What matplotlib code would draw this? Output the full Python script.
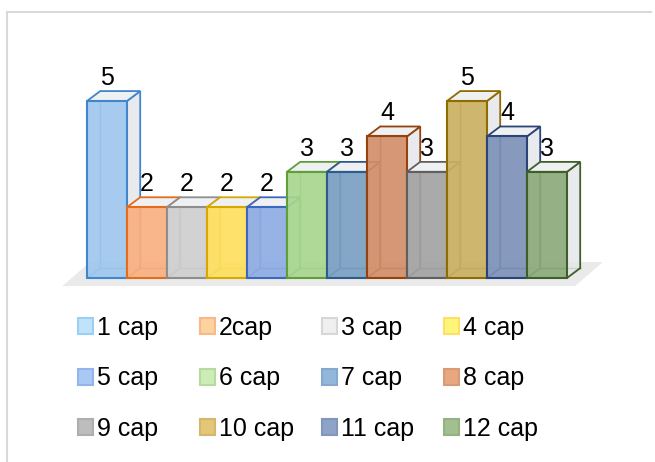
import numpy as np
import matplotlib.pyplot as plt
from matplotlib.patches import Polygon, Patch
from matplotlib.lines import Line2D

plt.rcParams['font.family'] = ['Liberation Sans', 'DejaVu Sans']

# data
labels = ['1 cap', '2cap', '3 cap', '4 cap', '5 cap', '6 cap',
          '7 cap', '8 cap', '9 cap', '10 cap', '11 cap', '12 cap']
values = [5, 2, 2, 2, 2, 3, 3, 4, 3, 5, 4, 3]

# colours (front face, edge) of the bars, and of the legend keys
bar_face = ['#9FC7EE', '#F8B080', '#CFCFCF', '#FDDF5E', '#8EADE4', '#A8D68E',
            '#7A9FC3', '#D28E69', '#A3A3A3', '#CBB062', '#7D92B9', '#8CAA7B']
bar_edge = ['#3F86CC', '#E46C1A', '#8E8E8E', '#D9A800', '#3B68BE', '#5F9E3A',
            '#2D5B8C', '#94420E', '#5F5F5F', '#8E6C00', '#2A4478', '#3F5F28']
key_face = ['#BFE4FA', '#FCD29F', '#EFEFEF', '#FFF57A', '#A9C9F5', '#CDEDB6',
            '#93B7DA', '#E8A77E', '#BDBDBD', '#E3C677', '#8EA3C8', '#A2BF90']
key_edge = ['#9CCFF5', '#F7B98A', '#D7D7D7', '#FFE066', '#93B5EC', '#B5DBA0',
            '#85A9CE', '#D79B77', '#AEAEAE', '#D4B66D', '#8296BB', '#95B284']

W, H = 655, 462
fig = plt.figure(figsize=(W / 100, H / 100), dpi=100)
ax = fig.add_axes([0, 0, 1, 1])
ax.set_xlim(-107 / 40, (W - 107) / 40)
ax.set_ylim((278 - H) / 35.4, 278 / 35.4)
ax.axis('off')

# depth of the pseudo-3D boxes (in data units)
dx, dy = 0.33, 0.28

# floor
floor = Polygon([(-1.12, -0.23), (11.7, -0.23), (12.4, 0.45), (-0.42, 0.45)],
                closed=True, facecolor='#EAEAEA', edgecolor='none', zorder=0)
ax.add_patch(floor)

x = np.arange(len(values))
for i, v in enumerate(values):
    z = 2 + i * 0.1
    xl, xr = x[i] - 0.5, x[i] + 0.5
    ec = bar_edge[i]
    # hidden back edges, seen through the front
    ax.plot([xl + dx, xl + dx], [dy, v + dy], color=ec, lw=1.0, zorder=z)
    ax.plot([xl + dx, xr + dx], [dy, dy], color=ec, lw=1.0, zorder=z)
    ax.plot([xl, xl + dx], [0, dy], color=ec, lw=1.0, zorder=z)
    side = Polygon([(xr, 0), (xr + dx, dy), (xr + dx, v + dy), (xr, v)],
                   closed=True, facecolor='#E4E7EA', alpha=0.85,
                   edgecolor='none', zorder=z)
    ax.add_patch(side)
    ax.add_patch(Polygon([(xr, 0), (xr + dx, dy), (xr + dx, v + dy), (xr, v)],
                         closed=True, fill=False, edgecolor=ec, lw=1.3, zorder=z + 0.01))
    top = Polygon([(xl, v), (xr, v), (xr + dx, v + dy), (xl + dx, v + dy)],
                  closed=True, facecolor='#EEF0F2', edgecolor=ec, lw=1.3, zorder=z + 0.01)
    ax.add_patch(top)
    ax.bar(x[i], v, width=1.0, color=bar_face[i], alpha=0.92, edgecolor='none', zorder=z + 0.02)
    ax.bar(x[i], v, width=1.0, fill=False, edgecolor=ec, lw=1.5, zorder=z + 0.03)
    ax.annotate(str(v), (x[i], v + dy), xytext=(0, 4.5), textcoords='offset points',
                ha='center', va='baseline', fontsize=18, color='black', zorder=10)

# legend: 4 columns x 3 rows, filled row by row
col_x = [78, 200, 322, 444]
for c in range(4):
    idx = [c, c + 4, c + 8]
    handles = [Patch(facecolor=key_face[j], edgecolor=key_edge[j], lw=1.5) for j in idx]
    fig.legend(handles, [labels[j] for j in idx], loc='upper left',
               bbox_to_anchor=(col_x[c] / W, 1 - 316 / H), frameon=False,
               fontsize=18, handlelength=0.6, handleheight=0.6,
               handletextpad=0.15, labelspacing=1.06, borderpad=0, borderaxespad=0)

# chart border (left and top edge visible)
fig.add_artist(Line2D([7 / W, 7 / W], [0, 1 - 12 / H], color='#D9D9D9', lw=1.5))
fig.add_artist(Line2D([7 / W, 651 / W], [1 - 12 / H, 1 - 12 / H], color='#D9D9D9', lw=1.5))

fig.savefig('out.png', dpi=100)
